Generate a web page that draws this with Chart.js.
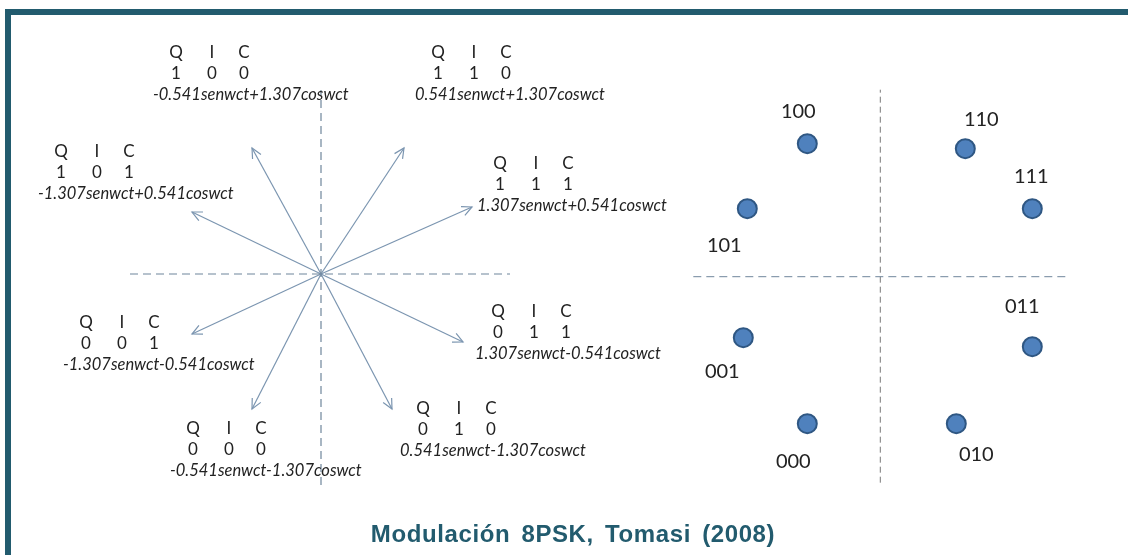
<!DOCTYPE html>
<html lang="es">

<head>
  <meta charset="UTF-8">
  <title>Modulación 8PSK, Tomasi (2008)</title>

  <!-- Chart.js -->
  <script src="https://cdn.jsdelivr.net/npm/chart.js"></script>

  <style>
    html, body {
      margin: 0;
      padding: 0;
      background: #ffffff;
    }

    #frame {
      position: absolute;
      left: 5px;
      top: 9px;
      width: 1123px;
      height: 546px;
      border-top: 6px solid #225b6e;
      border-left: 6px solid #225b6e;
      box-sizing: border-box;
    }

    #chart {
      position: absolute;
      left: 0;
      top: 0;
    }

    #caption {
      position: absolute;
      left: 0;
      width: 1128px;
      top: 520px;
      padding-left: 18px;
      text-align: center;
      font-family: 'Liberation Sans', Arial, sans-serif;
      font-weight: bold;
      font-size: 24px;
      letter-spacing: 0.6px;
      word-spacing: 4px;
      color: #225b6e;
      box-sizing: border-box;
    }
  </style>
</head>

<body>
  <div id="frame"></div>
  <canvas id="chart" width="1128" height="555"></canvas>
  <div id="caption">Modulación 8PSK, Tomasi (2008)</div>

  <script>
    // ---- Left diagram: phasors (x = sen coefficient, y = cos coefficient) ----
    const phasorBits = ['100', '110', '111', '011', '010', '000', '001', '101'];
    const phasorFormulas = [
      '-0.541senwct+1.307coswct',
      '0.541senwct+1.307coswct',
      '1.307senwct+0.541coswct',
      '1.307senwct-0.541coswct',
      '0.541senwct-1.307coswct',
      '-0.541senwct-1.307coswct',
      '-1.307senwct-0.541coswct',
      '-1.307senwct+0.541coswct'
    ];
    const phasorX = [-0.69, 0.83, 1.51, 1.42, 0.71, -0.69, -1.29, -1.29];
    const phasorY = [1.26, 1.26, 0.67, -0.68, -1.35, -1.35, -0.60, 0.62];

    // dashed reference axes of the left diagram
    const leftAxisX = [-1.91, 1.89];
    const leftAxisY = [-2.11, 1.84];

    // ---- Right diagram: constellation ----
    const constBits = ['100', '110', '111', '011', '010', '000', '001', '101'];
    const constX = [-0.73, 0.85, 1.52, 1.52, 0.76, -0.73, -1.37, -1.33];
    const constY = [1.33, 1.28, 0.68, -0.70, -1.47, -1.47, -0.61, 0.68];

    const rightAxisX = [-1.87, 1.88];
    const rightAxisY = [-2.06, 1.87];

    // layout: where each text block sits, in pixels from its mark
    const phasorLabelOffsets = [
      [-99, -53], [11, -53], [5, -1], [12, 12],
      [8, 42], [-82, 62], [-129, 31], [-154, -18]
    ];
    const constLabelOffsets = [
      [-9, -32], [16, -29], [-1, -32], [-10, -40],
      [20, 31], [-14, 38], [-21, 34], [-23, 37]
    ];

    const arrowColor = '#7b95b0';
    const axisColor = '#6f869c';

    // build datasets
    const datasets = [];

    datasets.push({
      data: [{ x: leftAxisX[0], y: 0 }, { x: leftAxisX[1], y: 0 }],
      xAxisID: 'xL', yAxisID: 'yL',
      showLine: true, borderColor: axisColor, borderWidth: 1.2,
      borderDash: [8, 5], pointRadius: 0
    });
    datasets.push({
      data: [{ x: 0, y: leftAxisY[0] }, { x: 0, y: leftAxisY[1] }],
      xAxisID: 'xL', yAxisID: 'yL',
      showLine: true, borderColor: axisColor, borderWidth: 1.2,
      borderDash: [8, 5], pointRadius: 0
    });

    phasorX.forEach((px, i) => {
      datasets.push({
        data: [{ x: 0, y: 0 }, { x: px, y: phasorY[i] }],
        xAxisID: 'xL', yAxisID: 'yL',
        showLine: true, borderColor: arrowColor, borderWidth: 1.2,
        pointRadius: 0, isPhasor: true
      });
    });

    datasets.push({
      data: [{ x: rightAxisX[0], y: 0 }, { x: rightAxisX[1], y: 0 }],
      xAxisID: 'xR', yAxisID: 'yR',
      showLine: true, borderColor: axisColor, borderWidth: 1,
      borderDash: [8, 5], pointRadius: 0
    });
    datasets.push({
      data: [{ x: 0, y: rightAxisY[0] }, { x: 0, y: rightAxisY[1] }],
      xAxisID: 'xR', yAxisID: 'yR',
      showLine: true, borderColor: '#7a7a7a', borderWidth: 1,
      borderDash: [6, 4], pointRadius: 0
    });

    datasets.push({
      data: constX.map((cx, i) => ({ x: cx, y: constY[i] })),
      xAxisID: 'xR', yAxisID: 'yR',
      showLine: false,
      pointRadius: 9.5,
      pointBackgroundColor: '#4f81bd',
      pointBorderColor: '#2f5783',
      pointBorderWidth: 2
    });

    // arrowheads and text labels
    const annotations = {
      id: 'annotations',
      afterDatasetsDraw(chart) {
        const ctx = chart.ctx;
        const xL = chart.scales.xL, yL = chart.scales.yL;
        const xR = chart.scales.xR, yR = chart.scales.yR;

        ctx.save();

        // arrowheads
        chart.data.datasets.forEach(ds => {
          if (!ds.isPhasor) return;
          const p = ds.data[1];
          const tx = xL.getPixelForValue(p.x), ty = yL.getPixelForValue(p.y);
          const ox = xL.getPixelForValue(0), oy = yL.getPixelForValue(0);
          const ang = Math.atan2(ty - oy, tx - ox);
          const len = 11, spread = 0.45;
          ctx.strokeStyle = arrowColor;
          ctx.lineWidth = 1.2;
          ctx.beginPath();
          ctx.moveTo(tx - len * Math.cos(ang - spread), ty - len * Math.sin(ang - spread));
          ctx.lineTo(tx, ty);
          ctx.lineTo(tx - len * Math.cos(ang + spread), ty - len * Math.sin(ang + spread));
          ctx.stroke();
        });

        // phasor text blocks
        ctx.fillStyle = '#222';
        ctx.textBaseline = 'middle';
        phasorBits.forEach((bits, i) => {
          const tx = xL.getPixelForValue(phasorX[i]);
          const ty = yL.getPixelForValue(phasorY[i]);
          const left = tx + phasorLabelOffsets[i][0];
          const fy = ty + phasorLabelOffsets[i][1];
          const cols = [left + 23, left + 59, left + 91];

          ctx.font = '17px Lato, sans-serif';
          ctx.textAlign = 'center';
          ['Q', 'I', 'C'].forEach((h, k) => ctx.fillText(h, cols[k], fy - 42));
          bits.split('').forEach((b, k) => ctx.fillText(b, cols[k], fy - 21));

          ctx.font = 'italic 16.5px Lato, sans-serif';
          ctx.textAlign = 'left';
          ctx.fillText(phasorFormulas[i], left, fy);
        });

        // constellation labels
        ctx.font = '20px Lato, sans-serif';
        ctx.textAlign = 'center';
        constBits.forEach((bits, i) => {
          const cx = xR.getPixelForValue(constX[i]) + constLabelOffsets[i][0];
          const cy = yR.getPixelForValue(constY[i]) + constLabelOffsets[i][1];
          ctx.fillText(bits, cx, cy);
        });

        ctx.restore();
      }
    };

    new Chart(document.getElementById('chart'), {
      type: 'scatter',
      data: { datasets },
      options: {
        responsive: false,
        animation: false,
        layout: { padding: 0, autoPadding: false },
        plugins: {
          legend: { display: false },
          tooltip: { enabled: false }
        },
        scales: {
          xL: { type: 'linear', position: 'bottom', display: false, min: -3.21, max: 8.07 },
          yL: { type: 'linear', position: 'left', display: false, min: -2.81, max: 2.74 },
          xR: { type: 'linear', position: 'bottom', display: false, min: -8.803, max: 2.477 },
          yR: { type: 'linear', position: 'left', display: false, min: -2.783, max: 2.767 }
        }
      },
      plugins: [annotations]
    });
  </script>
</body>

</html>
